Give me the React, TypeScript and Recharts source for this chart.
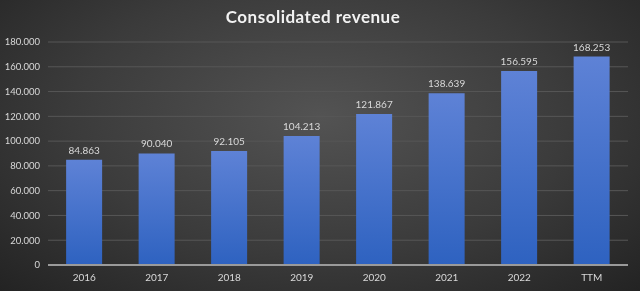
import React from 'react';
import { BarChart, Bar, XAxis, YAxis, CartesianGrid, LabelList } from 'recharts';

const categories = ['2016', '2017', '2018', '2019', '2020', '2021', '2022', 'TTM'];
const revenue = [84863, 90040, 92105, 104213, 121867, 138639, 156595, 168253];
const yTicks = [0, 20000, 40000, 60000, 80000, 100000, 120000, 140000, 160000, 180000];

const data = categories.map((year, i) => ({ year, revenue: revenue[i] }));

const fmt = (v: number) => (v === 0 ? '0' : (v / 1000).toFixed(3));

const FONT = 'Lato, "Open Sans", sans-serif';

export default function App() {
  return (
    <div
      style={{
        position: 'fixed',
        left: 0,
        top: 0,
        width: 640,
        height: 291,
        background: 'radial-gradient(ellipse at 50% 40%, #535353 0%, #3b3b3b 55%, #232323 100%)',
        fontFamily: FONT,
      }}
    >
      <div
        style={{
          position: 'absolute',
          top: 6,
          left: 0,
          width: 626,
          textAlign: 'center',
          color: '#f2f2f2',
          fontSize: 17,
          fontWeight: 700,
          letterSpacing: 0.5,
        }}
      >
        Consolidated revenue
      </div>
      <BarChart
        width={640}
        height={291}
        data={data}
        margin={{ top: 42, right: 12, left: 0, bottom: 0 }}
        barCategoryGap="25%"
      >
        <defs>
          <linearGradient id="barFill" x1="0" y1="0" x2="0" y2="1">
            <stop offset="0%" stopColor="#5e82d6" />
            <stop offset="100%" stopColor="#2e62c0" />
          </linearGradient>
        </defs>
        <CartesianGrid vertical={false} stroke="#575757" strokeWidth={1} />
        <XAxis
          dataKey="year"
          height={26}
          tickLine={false}
          axisLine={{ stroke: '#9a9a9a', strokeWidth: 2 }}
          tick={{ fill: '#d9d9d9', fontSize: 10, fontFamily: FONT }}
          tickMargin={3}
        />
        <YAxis
          width={48}
          domain={[0, 180000]}
          ticks={yTicks}
          tickFormatter={fmt}
          axisLine={false}
          tickLine={false}
          tick={{ fill: '#d9d9d9', fontSize: 9.5, fontFamily: FONT }}
          tickMargin={2}
        />
        <Bar dataKey="revenue" fill="url(#barFill)" isAnimationActive={false}>
          <LabelList
            dataKey="revenue"
            position="top"
            offset={6}
            formatter={(v: any) => fmt(Number(v))}
            style={{ fill: '#d9d9d9', fontSize: 10, fontFamily: FONT }}
          />
        </Bar>
      </BarChart>
    </div>
  );
}
